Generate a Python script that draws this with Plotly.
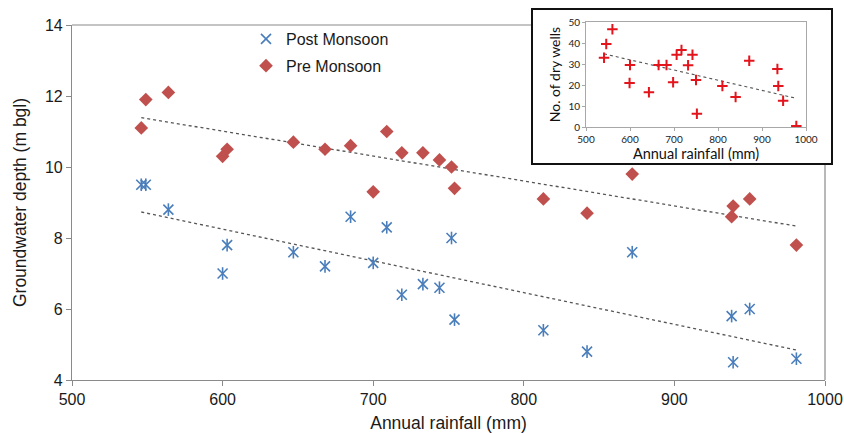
import numpy as np
import plotly.graph_objects as go

# ---------------- data ----------------
rainfall = [546, 549, 564, 600, 603, 647, 668, 685, 700, 709, 719,
            733, 744, 752, 754, 813, 842, 872, 938, 939, 950, 981]
pre_monsoon = [11.1, 11.9, 12.1, 10.3, 10.5, 10.7, 10.5, 10.6, 9.3, 11.0, 10.4,
               10.4, 10.2, 10.0, 9.4, 9.1, 8.7, 9.8, 8.6, 8.9, 9.1, 7.8]
post_monsoon = [9.5, 9.5, 8.8, 7.0, 7.8, 7.6, 7.2, 8.6, 7.3, 8.3, 6.4,
                6.7, 6.6, 8.0, 5.7, 5.4, 4.8, 7.6, 5.8, 4.5, 6.0, 4.6]

inset_rainfall = [541, 546, 560, 599, 600, 643, 665, 683, 698, 706, 717,
                  732, 742, 750, 752, 810, 840, 871, 935, 937, 948, 978]
dry_wells = [33, 39.5, 46.5, 21, 29.5, 16.5, 29.5, 29.5, 21.3, 34.4, 36.7,
             29.4, 34.4, 22.4, 6.3, 19.5, 14.3, 31.6, 27.6, 19.5, 12.5, 0.5]

x_ticks = [500, 600, 700, 800, 900, 1000]
y_ticks = [4, 6, 8, 10, 12, 14]
inset_y_ticks = [0, 10, 20, 30, 40, 50]

BLUE = "#4a7ebb"
RED = "#c0504d"
PLUS_RED = "#e3141c"
AXIS = "#8a8a8a"
MAIN_FONT = "Liberation Sans, Arial, sans-serif"
INSET_FONT = "Lato, Open Sans, sans-serif"


def trend(xs, ys):
    xs = np.asarray(xs, float)
    ys = np.asarray(ys, float)
    k, b = np.polyfit(xs, ys, 1)
    xx = np.array([xs.min(), xs.max()])
    return xx, k * xx + b


fig = go.Figure()

# trendlines (main)
for ys in (pre_monsoon, post_monsoon):
    tx, ty = trend(rainfall, ys)
    fig.add_trace(go.Scatter(x=tx, y=ty, mode="lines", showlegend=False,
                             line=dict(color="#555555", width=1.3, dash="dot"),
                             hoverinfo="skip"))

# post monsoon: six-armed asterisk = X + vertical bar
fig.add_trace(go.Scatter(x=rainfall, y=post_monsoon, mode="markers",
                         name="Post Monsoon", legendgroup="post", legendrank=1,
                         marker=dict(symbol="x-thin-open", size=10,
                                     line=dict(color=BLUE, width=1.6), color=BLUE)))
fig.add_trace(go.Scatter(x=rainfall, y=post_monsoon, mode="markers",
                         showlegend=False, legendgroup="post",
                         marker=dict(symbol="line-ns-open", size=9,
                                     line=dict(color=BLUE, width=1.6), color=BLUE)))
# pre monsoon
fig.add_trace(go.Scatter(x=rainfall, y=pre_monsoon, mode="markers",
                         name="Pre Monsoon", legendgroup="pre", legendrank=2,
                         marker=dict(symbol="diamond", size=10.5, color=RED,
                                     line=dict(width=0))))

# inset
itx, ity = trend(inset_rainfall, dry_wells)
fig.add_trace(go.Scatter(x=itx, y=ity, mode="lines", showlegend=False,
                         xaxis="x2", yaxis="y2",
                         line=dict(color="#555555", width=1.1, dash="dot"),
                         hoverinfo="skip"))
fig.add_trace(go.Scatter(x=inset_rainfall, y=dry_wells, mode="markers",
                         showlegend=False, xaxis="x2", yaxis="y2",
                         marker=dict(symbol="cross-thin-open", size=7.5, color=PLUS_RED,
                                     line=dict(color=PLUS_RED, width=2))))

W, H = 844, 433
ML, MR, MT, MB = 72, 19, 5, 53
PW = W - ML - MR
PH = H - MT - MB


def px_to_paper_x(px):
    return (px - ML) / PW


def px_to_paper_y(py):
    return (H - MB - py) / PH


main_top = px_to_paper_y(25)

fig.update_layout(
    width=W, height=H,
    margin=dict(l=ML, r=MR, t=MT, b=MB, autoexpand=False),
    paper_bgcolor="white", plot_bgcolor="white",
    font=dict(family=MAIN_FONT, color="#1a1a1a"),
    legend=dict(x=px_to_paper_x(246), y=px_to_paper_y(22), xanchor="left", yanchor="top",
                font=dict(family=MAIN_FONT, size=16, color="#1a1a1a"),
                bgcolor="rgba(0,0,0,0)", traceorder="grouped", tracegroupgap=3,
                itemwidth=30),
    xaxis=dict(range=[500, 1000], tickvals=x_ticks, showgrid=False, zeroline=False,
               automargin=False,
               showline=True, linecolor=AXIS, linewidth=1.2, ticks="outside",
               ticklen=5, tickcolor=AXIS, tickfont=dict(size=16),
               title=dict(text="Annual rainfall (mm)", font=dict(size=17.5), standoff=9),
               domain=[0, 1], anchor="y"),
    yaxis=dict(range=[4, 14], tickvals=y_ticks, showgrid=False, zeroline=False,
               automargin=False,
               showline=True, linecolor=AXIS, linewidth=1.2, ticks="outside",
               ticklen=5, tickcolor=AXIS, tickfont=dict(size=16),
               title=dict(text="Groundwater depth (m bgl)", font=dict(size=17.5), standoff=13),
               domain=[0, main_top], anchor="x"),
    xaxis2=dict(range=[500, 1000], tickvals=x_ticks, showgrid=False, zeroline=False,
                automargin=False,
                showline=True, mirror=True, linecolor="#a8a8a8", linewidth=1,
                ticks="outside", ticklen=3, tickcolor="#a8a8a8",
                tickfont=dict(family=INSET_FONT, size=10, color="#222"),
                title=dict(text="Annual rainfall (mm)", standoff=0,
                           font=dict(family=INSET_FONT, size=14.5, color="#111")),
                domain=[px_to_paper_x(586), px_to_paper_x(806)], anchor="y2"),
    yaxis2=dict(range=[0, 50], tickvals=inset_y_ticks, showgrid=False, zeroline=False,
                automargin=False,
                showline=True, mirror=True, linecolor="#a8a8a8", linewidth=1,
                ticks="outside", ticklen=3, tickcolor="#a8a8a8",
                tickfont=dict(family=INSET_FONT, size=10, color="#222"),
                title=dict(text="No. of dry wells", standoff=4,
                           font=dict(family=INSET_FONT, size=14, color="#111")),
                domain=[px_to_paper_y(127), px_to_paper_y(22)], anchor="x2"),
    shapes=[
        dict(type="line", xref="paper", yref="paper", x0=0, x1=1, y0=main_top, y1=main_top,
             line=dict(color=AXIS, width=1.2), layer="below"),
        dict(type="line", xref="paper", yref="paper", x0=1, x1=1, y0=0, y1=main_top,
             line=dict(color=AXIS, width=1.2), layer="below"),
        dict(type="rect", xref="paper", yref="paper",
             x0=px_to_paper_x(532), x1=px_to_paper_x(832),
             y0=px_to_paper_y(164), y1=px_to_paper_y(9),
             fillcolor="white", line=dict(color="#111111", width=2), layer="below"),
    ],
)

fig.write_html("out.html", config={"displayModeBar": False},
               post_script="document.body.style.margin='0';document.body.style.overflow='hidden';")
